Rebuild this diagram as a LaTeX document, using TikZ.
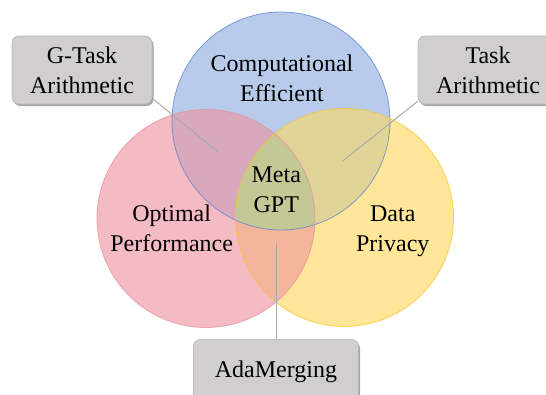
\documentclass[tikz,border=0pt]{standalone}
\usepackage{fontspec}
\setmainfont{Liberation Serif}
\usetikzlibrary{shadows}
\definecolor{bluefill}{RGB}{185,203,234}
\definecolor{pinkfill}{RGB}{244,187,196}
\definecolor{yellowfill}{RGB}{255,230,153}
\definecolor{bpfill}{RGB}{216,168,188}
\definecolor{byfill}{RGB}{226,212,150}
\definecolor{pyfill}{RGB}{245,180,156}
\definecolor{allfill}{RGB}{196,200,148}
\definecolor{blueline}{RGB}{80,125,210}
\definecolor{pinkline}{RGB}{232,140,155}
\definecolor{yellowline}{RGB}{250,195,40}
\definecolor{boxfill}{RGB}{208,206,206}
\definecolor{boxline}{RGB}{185,183,183}
\definecolor{connline}{RGB}{170,170,170}
\begin{document}
\begin{tikzpicture}[x=1pt,y=-1pt,
  lbl/.style={font=\fontsize{24}{30}\selectfont, align=center, inner sep=0pt},
  tagbox/.style={lbl, draw=boxline, line width=0.6pt, fill=boxfill, rounded corners=7pt,
    minimum width=140pt, minimum height=68pt,
    drop shadow={shadow xshift=1.5pt, shadow yshift=-2pt, opacity=0.35, fill=black}},
  conn/.style={draw=connline, line width=1pt},
  ring/.style={line width=0.8pt, opacity=0.7}]
\useasboundingbox (0,0) rectangle (546,394);
\coordinate (cb) at (281,121);
\coordinate (cp) at (206,218.5);
\coordinate (cy) at (344.5,217.5);
\def\R{109pt}
% base fills
\fill[bluefill] (cb) circle[radius=\R];
\fill[pinkfill] (cp) circle[radius=\R];
\fill[yellowfill] (cy) circle[radius=\R];
% overlaps
\begin{scope}
  \clip (cb) circle[radius=\R];
  \fill[bpfill] (cp) circle[radius=\R];
  \fill[byfill] (cy) circle[radius=\R];
\end{scope}
\begin{scope}
  \clip (cp) circle[radius=\R];
  \fill[pyfill] (cy) circle[radius=\R];
  \clip (cb) circle[radius=\R];
  \fill[allfill] (cy) circle[radius=\R];
\end{scope}
% outlines
\draw[ring, blueline] (cb) circle[radius=\R];
\draw[ring, pinkline] (cp) circle[radius=\R];
\draw[ring, yellowline] (cy) circle[radius=\R];
% circle labels
\node[lbl] (comp) at (282,78.5) {Computational\\Efficient};
\node[lbl] (opt) at (171.7,228.5) {Optimal\\Performance};
\node[lbl] (data) at (392.8,231.1) {Data\\Privacy};
\node[lbl] (meta) at (276.3,189.7) {Meta\\GPT};
% method boxes
\node[tagbox] (gtask) at (82,70) {G-Task\\Arithmetic};
\node[tagbox] (task) at (488,70) {Task\\Arithmetic};
\node[tagbox, minimum width=165pt, minimum height=64pt] (ada) at (276,371.3) {AdaMerging};
% connectors
\coordinate (gtend) at (217.6,151.7);
\coordinate (taend) at (343,160.7);
\coordinate (adend) at (276,243);
\draw[conn] ([yshift=6pt]gtask.south east) -- (gtend);
\draw[conn] ([yshift=3pt]task.south west) -- (taend);
\draw[conn] (ada.north) -- (adend);
\end{tikzpicture}
\end{document}
